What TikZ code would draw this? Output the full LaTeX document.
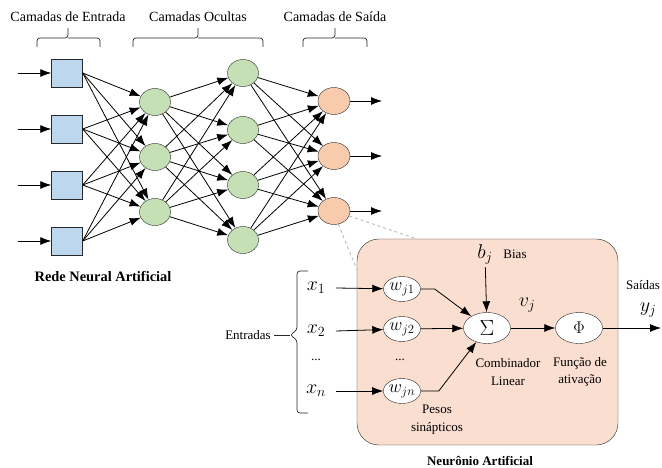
\RequirePackage{fix-cm}
\documentclass[tikz,border=0pt]{standalone}
\usepackage{fontspec}
\setmainfont{Liberation Serif}
\usetikzlibrary{arrows.meta, shapes.geometric}

\definecolor{inblue}{RGB}{189,215,238}
\definecolor{hidgreen}{RGB}{197,224,180}
\definecolor{outorange}{RGB}{248,203,173}
\definecolor{boxpeach}{RGB}{250,222,208}
\definecolor{edgegray}{RGB}{40,40,40}

\tikzstyle{inbox} = [rectangle, draw=edgegray, fill=inblue, minimum width=31pt, minimum height=28pt, inner sep=0pt]
\tikzstyle{hidden} = [ellipse, draw=edgegray, fill=hidgreen, minimum width=31pt, minimum height=27pt, inner sep=0pt]
\tikzstyle{outunit} = [ellipse, draw=edgegray, fill=outorange, minimum width=32pt, minimum height=27pt, inner sep=0pt]
\tikzstyle{weight} = [ellipse, draw=edgegray, fill=white, minimum width=37pt, minimum height=25pt, inner sep=0pt, font=\fontsize{18}{20}\selectfont]
\tikzstyle{unit} = [ellipse, draw=edgegray, fill=white, minimum width=47pt, minimum height=31pt, inner sep=0pt]
\tikzstyle{neuronbox} = [rectangle, draw=edgegray, fill=boxpeach, rounded corners=22pt, minimum width=261pt, minimum height=206pt]
\tikzstyle{arr} = [-{Latex[length=11pt,width=8pt]}, line width=0.8pt]
\tikzstyle{bracket} = [line width=0.7pt, draw=edgegray, rounded corners=3pt]
\tikzstyle{zoomline} = [dashed, gray!60, line width=0.8pt]
\tikzstyle{title} = [font=\fontsize{13}{15}\selectfont\bfseries]
\tikzstyle{layer} = [font=\fontsize{14}{16}\selectfont]
\tikzstyle{sym} = [font=\fontsize{20}{22}\selectfont]

\begin{document}
\begin{tikzpicture}[x=1pt, y=-1pt]
        \tikzset{every node/.style={font=\fontsize{13}{15}\selectfont}}
        \useasboundingbox (0,0) rectangle (662,468);

        % Layer titles and brackets
        \node (lblin) at (68,17) [layer] {Camadas de Entrada};
        \node (lblhid) at (198,17) [layer] {Camadas Ocultas};
        \node (lblout) at (335,17) [layer] {Camadas de Saída};
        \draw[bracket] (37,47) |- (68,38) -- (68,28);
        \draw[bracket] (100,47) |- (68,38);
        \draw[bracket] (133,47) |- (198,38) -- (198,28);
        \draw[bracket] (263,47) |- (198,38);
        \draw[bracket] (303,47) |- (335,38) -- (335,28);
        \draw[bracket] (367,47) |- (335,38);

        % Network
        \foreach \i/\y in {1/73, 2/129, 3/185, 4/241} {
            \node (in\i) at (67,\y) [inbox] {};
            \coordinate (src\i) at (18,\y);
            \draw[arr] (src\i) -- (in\i);
        }
        \foreach \i/\y in {1/102, 2/157, 3/212}
            \node (ha\i) at (155,\y) [hidden] {};
        \foreach \i/\y in {1/73, 2/130, 3/185, 4/240}
            \node (hb\i) at (243,\y) [hidden] {};
        \foreach \i/\y in {1/101, 2/156, 3/211} {
            \node (out\i) at (334,\y) [outunit] {};
            \coordinate (dst\i) at (382,\y);
            \draw[arr] (out\i) -- (dst\i);
        }
        \foreach \i in {1,...,4}
            \foreach \j in {1,2,3}
                \draw[arr] (in\i.east) -- (ha\j);
        \foreach \i in {1,2,3}
            \foreach \j in {1,...,4}
                \draw[arr] (ha\i) -- (hb\j);
        \foreach \i in {1,...,4}
            \foreach \j in {1,2,3}
                \draw[arr] (hb\i) -- (out\j);

        \node (rede) at (103,277) [title, font=\fontsize{14.4}{16}\selectfont\bfseries] {Rede Neural Artificial};

        % Artificial neuron
        \node (neuron) at (487.5,342) [neuronbox] {};
        \coordinate (zl1) at (357,270);
        \coordinate (zl2) at (414,238);
        \draw[zoomline] (out3.-72) -- (zl1);
        \draw[zoomline] (out3.-18) -- (zl2);

        \node (x1) at (316,288) [sym] {$x_1$};
        \node (x2) at (316,331) [sym] {$x_2$};
        \node (xd) at (316,360) {...};
        \node (xn) at (316,391) [sym] {$x_n$};
        \node (w1) at (402,289) [weight] {$w_{j1}$};
        \node (w2) at (402,329) [weight] {$w_{j2}$};
        \node (wd) at (400,360) {...};
        \node (wn) at (402,391) [weight] {$w_{jn}$};
        \node (sum) at (487,328) [unit, font=\fontsize{22}{24}\selectfont] {$\Sigma$};
        \node (phi) at (579,328) [unit, font=\fontsize{17}{19}\selectfont] {$\Phi$};
        \node (bj) at (485,254) [sym] {$b_j$};
        \node (bias) at (515,254) {Bias};
        \node (vj) at (527,305) [sym] {$v_j$};
        \node (saidas) at (643,285) [inner sep=1pt] {Saídas};
        \node (yj) at (648,310) [sym, inner sep=1pt] {$y_j$};
        \coordinate (yend) at (661,328);

        \draw[arr] ([xshift=7pt]x1.east) -- (w1);
        \draw[arr] ([xshift=7pt]x2.east) -- (w2);
        \draw[arr] ([xshift=7pt]xn.east) -- (wn);
        \draw[arr] (w1.east) -- ++(14,0) -- (sum);
        \draw[arr] (w2) -- (sum);
        \draw[arr] (wn.east) -- ++(18,0) -- (sum);
        \draw[arr] (bj) -- (sum);
        \draw[arr] (sum) -- (phi);
        \draw[arr] (phi) -- (yend);

        \node (comb) at (508,363) {Combinador};
        \node (lin) at (508,381) {Linear};
        \node (func) at (580,363) {Função de};
        \node (ativ) at (580,381) {ativação};
        \node (pesos) at (437,409) {Pesos};
        \node (sinap) at (437,428) {sinápticos};

        % Inputs bracket
        \node (entr) at (248,335) {Entradas};
        \coordinate (ebrace) at (290,335);
        \draw[bracket] (308,271) -- (297,271) -- (297,330) -- (ebrace) -- (297,340) -- (297,413) -- (308,413);
        \draw[bracket] (entr) -- (ebrace);

        \node (neurtitle) at (480,461) [title] {Neurônio Artificial};
\end{tikzpicture}
\end{document}
